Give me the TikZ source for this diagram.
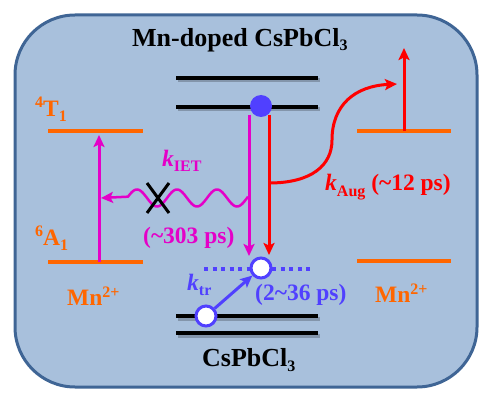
\documentclass[tikz,border=0pt]{standalone}
\usepackage{fontspec}
\setmainfont{Liberation Serif}
\usetikzlibrary{arrows.meta}
\definecolor{bgfill}{RGB}{168,192,220}
\definecolor{bgdraw}{RGB}{63,101,149}
\definecolor{mag}{RGB}{228,0,200}
\definecolor{org}{RGB}{255,102,0}
\definecolor{eblue}{RGB}{80,64,255}
\newcommand{\mysub}[2]{\raisebox{-#1pt}{\fontsize{16}{16}\selectfont #2}}
\newcommand{\mysup}[2]{\raisebox{#1pt}{\fontsize{16}{16}\selectfont #2}}
\begin{document}
\begin{tikzpicture}[x=1pt,y=-1pt,
  band/.style={line width=4pt, black},
  bandshadow/.style={line width=4pt, black, opacity=0.22},
  mnlevel/.style={line width=4pt, org},
  lbl/.style={font=\fontsize{23.5}{25}\selectfont\bfseries, inner sep=0pt, anchor=base west},
  biglbl/.style={font=\fontsize{26}{28}\selectfont\bfseries, inner sep=0pt, anchor=base west},
  arr/.style={line width=3pt, -{Stealth[length=12pt,width=11pt,inset=2.5pt]}},
  hole/.style={circle, draw=eblue, line width=3pt, fill=white, minimum size=20pt, inner sep=0pt}]
\useasboundingbox (0,0) rectangle (492,409);
\draw[bgdraw, fill=bgfill, line width=3pt, rounded corners=60pt] (15,15) rectangle (477,387);

% CsPbCl3 bands
\foreach \yy/\nm in {78/cb2, 107/cb1, 316/vb1, 333/vb2} {
  \coordinate (\nm L) at (176,\yy);
  \coordinate (\nm R) at (318,\yy);
  \draw[bandshadow] ([shift={(1.5,2.5)}]\nm L) -- ([shift={(1.5,2.5)}]\nm R);
  \draw[band] (\nm L) -- (\nm R);
}

% Mn levels
\coordinate (tL) at (48,131); \coordinate (tR) at (143,131);
\coordinate (aL) at (48,262); \coordinate (aR) at (143,262);
\coordinate (t2L) at (357,131); \coordinate (t2R) at (451,131);
\coordinate (a2L) at (357,261); \coordinate (a2R) at (451,261);
\draw[mnlevel] (tL) -- (tR);
\draw[mnlevel] (aL) -- (aR);
\draw[mnlevel] (t2L) -- (t2R);
\draw[mnlevel] (a2L) -- (a2R);

% dotted trap level
\coordinate (dL) at (204,269); \coordinate (dR) at (313,269);
\draw[eblue, line width=3.5pt, dash pattern=on 4pt off 4.5pt] (dL) -- (dR);

% electron and holes
\node[circle, fill=eblue, minimum size=22pt, inner sep=0pt] (e1) at (261,106) {};
\node[hole] (h1) at (261,268) {};
\node[hole] (h2) at (206,316) {};

% vertical transitions
\coordinate (m1) at (249,115); \coordinate (m2) at (249,256);
\coordinate (r1) at (269,115); \coordinate (r2) at (269,255);
\draw[arr, mag] (m1) -- (m2);
\draw[arr, red] (r1) -- (r2);

% Mn excitation
\coordinate (mxa) at (99,262); \coordinate (mxb) at (99,135);
\draw[arr, mag] (mxa) -- (mxb);

% wavy energy transfer
\coordinate (wtip) at (101,198);
\draw[mag, line width=2.5pt, -{Stealth[length=12pt,width=11pt,inset=2.5pt]}]
  plot[domain=248:128, samples=120, smooth] (\x, {198-8.5*cos(9*(\x-177))}) -- (wtip);

% cross
\coordinate (xc) at (158,198);
\draw[black, line width=3pt] ([shift={(-11,-15)}]xc) -- ([shift={(11,15)}]xc)
  ([shift={(-11,15)}]xc) -- ([shift={(11,-15)}]xc);

% trapping arrow
\draw[eblue, line width=3pt, -{Stealth[length=12pt,width=11pt,inset=2.5pt]}] (h2) -- (h1);

% Auger
\coordinate (ag1) at (269,183); \coordinate (ag2) at (397,84);
\draw[arr, red] (ag1) .. controls (312,183) and (332,165) .. (332,140)
  .. controls (332,105) and (355,86) .. (ag2);
\coordinate (up1) at (404,131); \coordinate (up2) at (404,48);
\draw[arr, red] (up1) -- (up2);

% labels
\node[biglbl] (title) at (132,47) {Mn-doped CsPbCl\mysub{4}{3}};
\node[biglbl] (bottom) at (202,366) {CsPbCl\mysub{5}{3}};
\node[lbl, org] (T1) at (35,117) {\mysup{9}{4}T\mysub{5}{1}};
\node[lbl, org] (A1) at (35,245) {\mysup{9}{6}A\mysub{5}{1}};
\node[lbl, org] (MnL) at (67,305) {Mn\mysup{8}{2+}};
\node[lbl, org] (MnR) at (375,302) {Mn\mysup{8}{2+}};
\node[lbl, mag] (kiet) at (162,166) {\textit{k}\mysub{5}{IET}};
\node[lbl, mag] (t303) at (143,243) {(\textasciitilde303 ps)};
\node[lbl, eblue] (ktr) at (187,290) {\textit{k}\mysub{5}{tr}};
\node[lbl, eblue] (t36) at (255,300) {(2\textasciitilde36 ps)};
\node[lbl, red] (kaug) at (325,190) {\textit{k}\mysub{6}{Aug} (\textasciitilde12 ps)};
\end{tikzpicture}
\end{document}
